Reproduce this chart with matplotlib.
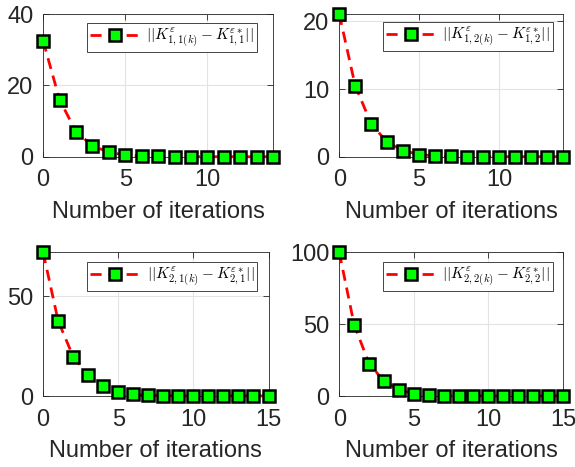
import matplotlib.pyplot as plt
import numpy as np

plt.rcParams['font.family'] = ['Liberation Sans', 'DejaVu Sans']
plt.rcParams['mathtext.fontset'] = 'cm'

# data
iters_top = np.arange(15)
iters_bot = np.arange(16)

k11 = [32.5, 16.0, 7.1, 3.15, 1.3, 0.55, 0.25, 0.12, 0.08, 0.06, 0.05, 0.05, 0.05, 0.05, 0.05]
k12 = [21.1, 10.5, 4.9, 2.15, 0.93, 0.35, 0.15, 0.07, 0.05, 0.04, 0.04, 0.04, 0.04, 0.04, 0.04]
k21 = [72.0, 37.6, 19.7, 10.5, 5.2, 2.2, 0.9, 0.3, 0.15, 0.1, 0.08, 0.08, 0.08, 0.08, 0.08, 0.08]
k22 = [100.0, 49.5, 22.6, 10.3, 4.4, 1.6, 0.6, 0.25, 0.15, 0.1, 0.1, 0.1, 0.1, 0.1, 0.1, 0.1]

labels = [r'$||K^{\varepsilon}_{1,1(k)}-K^{\varepsilon *}_{1,1}||$',
          r'$||K^{\varepsilon}_{1,2(k)}-K^{\varepsilon *}_{1,2}||$',
          r'$||K^{\varepsilon}_{2,1(k)}-K^{\varepsilon *}_{2,1}||$',
          r'$||K^{\varepsilon}_{2,2(k)}-K^{\varepsilon *}_{2,2}||$']

panels = [
    (iters_top, k11, labels[0], [0, 20, 40], 40, [0, 5, 10], 14),
    (iters_top, k12, labels[1], [0, 10, 20], 21.1, [0, 5, 10], 14),
    (iters_bot, k21, labels[2], [0, 50], 72, [0, 5, 10, 15], 15),
    (iters_bot, k22, labels[3], [0, 50, 100], 100, [0, 5, 10, 15], 15),
]

# axes boxes in figure fraction [left, bottom, width, height]
boxes = [
    [0.075, 0.664, 0.400, 0.306],
    [0.590, 0.664, 0.389, 0.306],
    [0.075, 0.152, 0.392, 0.308],
    [0.590, 0.152, 0.389, 0.308],
]
# legend upper-right corners in axes fraction
anchors = [(0.930, 0.937), (0.955, 0.944), (0.951, 0.930), (0.955, 0.930)]

fig = plt.figure(figsize=(5.75, 4.67), dpi=100)

for box, anc, (x, y, lab, yt, ytop, xt, xmax) in zip(boxes, anchors, panels):
    ax = fig.add_axes(box)
    ax.plot(x, y, color='red', linestyle=(0, (4, 2.5)), linewidth=2,
            marker='s', markersize=8.5, markerfacecolor='#00ff00',
            markeredgecolor='black', markeredgewidth=1.8, label=lab,
            clip_on=False, zorder=3)
    ax.set_xlim(0, xmax)
    ax.set_ylim(0, ytop)
    ax.set_xticks(xt)
    ax.set_yticks(yt)
    ax.grid(True, color='#e3e3e3', linewidth=0.8)
    ax.set_axisbelow(True)
    ax.tick_params(direction='in', labelsize=17, length=4, width=0.6,
                   top=True, right=True, colors='#262626')
    ax.tick_params(axis='x', pad=9)
    ax.tick_params(axis='y', pad=7)
    for s in ax.spines.values():
        s.set_linewidth(0.6)
        s.set_color('#262626')
    ax.set_xlabel('Number of iterations', fontsize=17, color='#262626',
                  labelpad=7)
    leg = ax.legend(loc='upper right', bbox_to_anchor=anc, fontsize=11,
                    fancybox=False, framealpha=1, edgecolor='#262626',
                    handlelength=3.3, borderaxespad=0, borderpad=0.2,
                    handletextpad=0.4)
    leg.get_frame().set_linewidth(0.6)

fig.savefig('out.png', dpi=100)
